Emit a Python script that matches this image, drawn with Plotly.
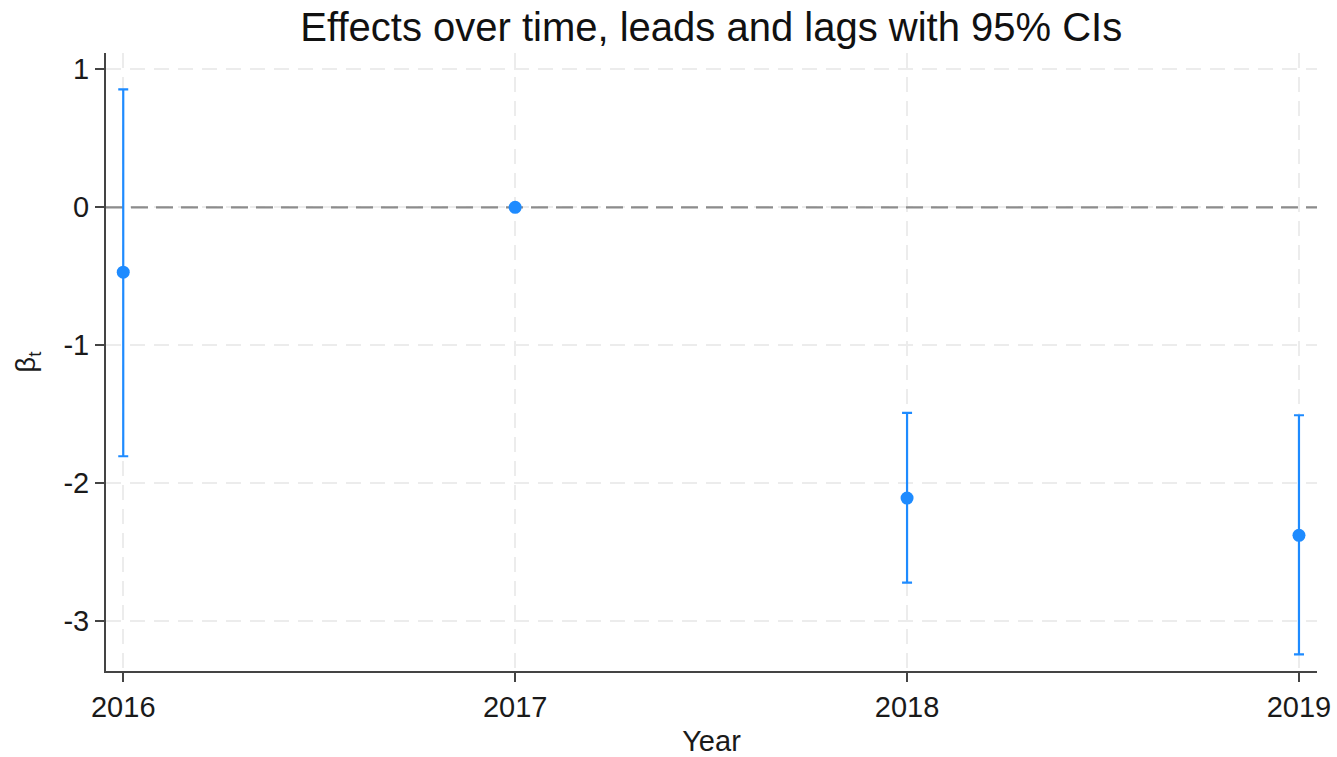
import plotly.graph_objects as go

# Event-study estimates by year with 95% confidence bounds
years = [2016, 2017, 2018, 2019]
beta = [-0.47, 0.0, -2.107, -2.377]
ci_upper = [0.855, 0.0, -1.49, -1.507]
ci_lower = [-1.804, 0.0, -2.72, -3.239]

x_ticks = [2016, 2017, 2018, 2019]
y_ticks = [1, 0, -1, -2, -3]

x_range = [2015.956, 2019.046]
y_range = [-3.36, 1.118]

err_plus = [u - b for u, b in zip(ci_upper, beta)]
err_minus = [b - l for b, l in zip(beta, ci_lower)]

blue = "#1E8BFF"
font = "Liberation Sans, Arial, sans-serif"
grid_dash = "15px,9px"

fig = go.Figure()

# dashed reference line at zero, drawn beneath the estimates
fig.add_trace(go.Scatter(
    x=x_range, y=[0, 0], mode="lines",
    line=dict(color="#8c8c8c", width=2.2, dash="17px,8px"),
    hoverinfo="skip", showlegend=False,
))

fig.add_trace(go.Scatter(
    x=years, y=beta, mode="markers",
    marker=dict(color=blue, size=13),
    error_y=dict(type="data", symmetric=False, array=err_plus, arrayminus=err_minus,
                 color=blue, thickness=2.2, width=5),
    showlegend=False,
))

fig.update_layout(
    width=1337, height=757,
    margin=dict(l=106, r=20, t=53, b=86),
    paper_bgcolor="white", plot_bgcolor="white",
    font=dict(family=font, size=29, color="#1a1a1a"),
    title=dict(text="Effects over time, leads and lags with 95% CIs",
               x=0.532, xanchor="center", y=0.964, yanchor="middle",
               font=dict(size=40, color="#111")),
)
fig.update_xaxes(
    range=x_range, tickvals=x_ticks, ticktext=[str(v) for v in x_ticks],
    showline=True, linecolor="#444", linewidth=2,
    ticks="outside", ticklen=9, tickwidth=2, tickcolor="#444",
    showgrid=True, gridcolor="#ececec", griddash=grid_dash, gridwidth=1.5,
    zeroline=False, automargin=False,
    title=dict(text="Year", font=dict(size=29), standoff=12),
    tickfont=dict(size=29),
)
fig.update_yaxes(
    range=y_range, tickvals=y_ticks, ticktext=[str(v) for v in y_ticks],
    showline=True, linecolor="#444", linewidth=2,
    ticks="outside", ticklen=9, tickwidth=2, tickcolor="#444",
    showgrid=True, gridcolor="#ececec", griddash=grid_dash, gridwidth=1.5,
    zeroline=False, automargin=False,
    title=dict(text="β<sub>t</sub>", font=dict(size=27), standoff=20),
    tickfont=dict(size=29),
)

fig.write_html("out.html")
